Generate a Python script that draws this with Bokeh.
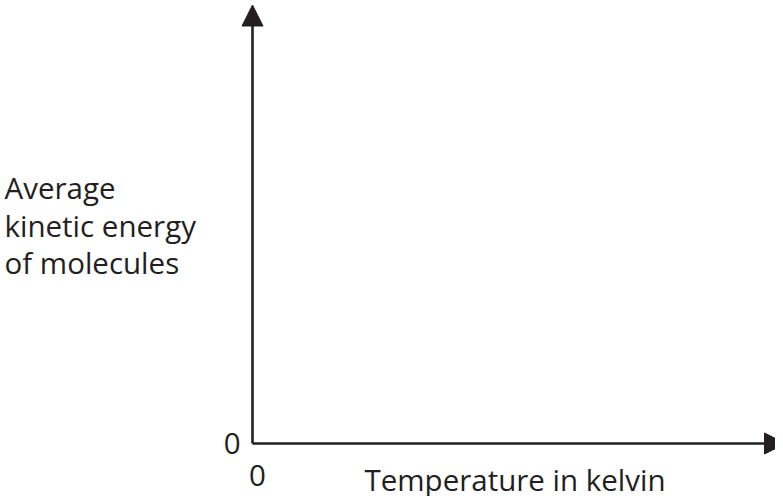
from bokeh.plotting import figure
from bokeh.models import Range1d, Arrow, NormalHead, ColumnDataSource
from bokeh.core.properties import value
from bokeh.embed import file_html
from bokeh.resources import INLINE

# ---- chart content (axes run from the origin 0,0) ----
x_axis_length = 533      # x axis runs 0 -> arrow tip (units = px from origin)
y_axis_length = 438.5    # y axis runs 0 -> arrow tip
origin_label = "0"
y_title_lines = ["Average", "kinetic energy", "of molecules"]
x_title = "Temperature in kelvin"

INK = "#231f20"
FONT = "Open Sans"
FS = "29.5px"

W, H = 783, 504
p = figure(width=W, height=H, output_backend="svg", toolbar_location=None,
           x_range=Range1d(-260, W - 260), y_range=Range1d(451 - H, 451),
           x_axis_type=None, y_axis_type=None, min_border=0,
           outline_line_color=None, background_fill_color="white",
           border_fill_color="white")
p.grid.visible = False
# cancel the page's 8px margin (and keep the layout box small enough that no scrollbar appears)
p.styles = {"margin": "-8px -16px -24px -8px"}

# axes with arrow heads
p.add_layout(Arrow(end=NormalHead(size=21, fill_color=INK, line_color=INK, line_width=1),
                   x_start=0, y_start=0, x_end=0, y_end=y_axis_length,
                   line_color=INK, line_width=2.6))
p.add_layout(Arrow(end=NormalHead(size=21, fill_color=INK, line_color=INK, line_width=1),
                   x_start=0, y_start=0, x_end=x_axis_length, y_end=0,
                   line_color=INK, line_width=2.6))

# origin labels
p.text(x=[-12], y=[0], text=[origin_label], text_align="right", text_baseline="alphabetic",
       text_font=value(FONT), text_font_size=FS, text_color=INK)
p.text(x=[5], y=[-32], text=[origin_label], text_align="center", text_baseline="alphabetic",
       text_font=value(FONT), text_font_size=FS, text_color=INK)

# y title, three lines
src = ColumnDataSource(dict(x=[-248] * 3, y=[451 - 195, 451 - 233, 451 - 270], t=y_title_lines))
p.text(x="x", y="y", text="t", source=src, text_align="left", text_baseline="alphabetic",
       text_font=value(FONT), text_font_size=FS, text_color=INK)

# x title
p.text(x=[112], y=[-36], text=[x_title], text_align="left", text_baseline="alphabetic",
       text_font=value(FONT), text_font_size=FS, text_color=INK)

open("out.html", "w").write(file_html(p, INLINE))
